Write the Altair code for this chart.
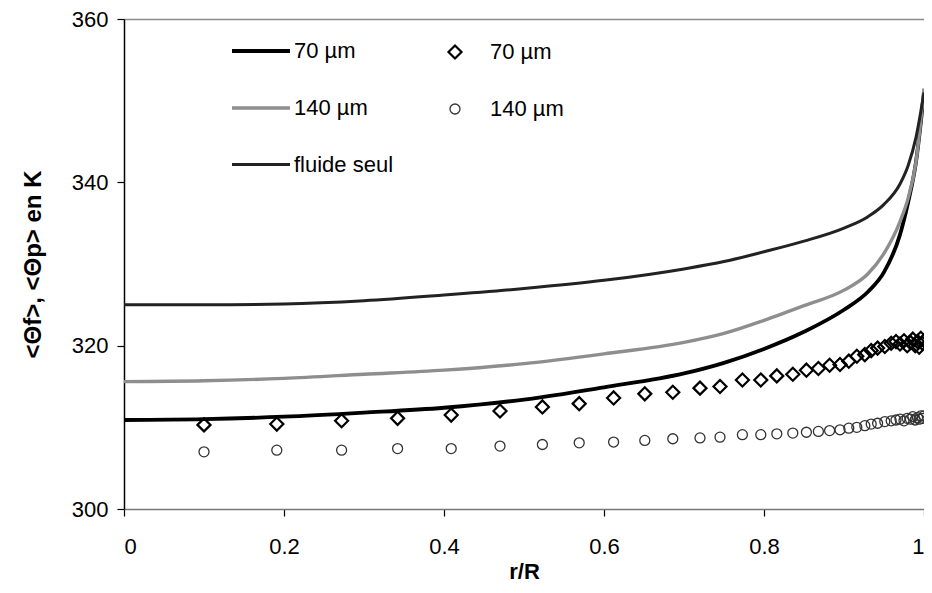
import altair as alt
import pandas as pd

# ---- data ----
x_curve = [0, 0.1, 0.2, 0.3, 0.4, 0.5, 0.6, 0.7, 0.75, 0.8, 0.85, 0.9, 0.93, 0.95, 0.97, 0.98, 0.99, 1.0]
t_70 = [310.9, 311.0, 311.3, 311.8, 312.4, 313.4, 314.9, 316.6, 317.9, 319.6, 321.7, 324.4, 326.6, 329.0, 333.6, 337.5, 342.5, 351.0]
t_140 = [315.6, 315.7, 316.0, 316.5, 317.0, 317.8, 319.0, 320.4, 321.5, 323.1, 324.9, 326.8, 328.8, 331.3, 335.2, 338.0, 342.5, 351.5]
t_fluide = [325.0, 325.0, 325.1, 325.5, 326.2, 327.0, 328.0, 329.4, 330.3, 331.5, 332.8, 334.4, 335.8, 337.3, 339.8, 342.0, 345.5, 351.0]
line_names = ["70 µm", "140 µm", "fluide seul"]

x_pts = [0.100, 0.191, 0.272, 0.342, 0.409, 0.470, 0.523, 0.569, 0.612, 0.651, 0.686, 0.720, 0.745,
         0.773, 0.796, 0.816, 0.836, 0.853, 0.868, 0.882, 0.895, 0.906, 0.916, 0.926, 0.934, 0.942,
         0.951, 0.959, 0.965, 0.970, 0.975, 0.979, 0.983, 0.986, 0.989, 0.992, 0.994, 0.996, 0.998, 1.000]
p_70 = [310.3, 310.4, 310.8, 311.1, 311.5, 312.0, 312.5, 312.9, 313.6, 314.1, 314.3, 314.8, 315.0,
        315.8, 315.8, 316.3, 316.5, 317.0, 317.2, 317.6, 317.7, 318.1, 318.7, 318.9, 319.4, 319.7,
        319.9, 320.3, 320.5, 320.2, 320.6, 320.0, 320.4, 320.8, 320.0, 320.5, 319.8, 320.9, 320.3, 320.6]
p_140 = [307.0, 307.2, 307.2, 307.4, 307.4, 307.7, 307.9, 308.1, 308.2, 308.4, 308.6, 308.7, 308.8,
         309.1, 309.1, 309.2, 309.3, 309.4, 309.5, 309.6, 309.7, 309.9, 310.0, 310.2, 310.4, 310.5,
         310.7, 310.8, 310.9, 311.0, 310.8, 311.1, 311.0, 311.3, 310.9, 311.2, 311.0, 311.4, 311.1, 311.4]
point_names = ["70 µm", "140 µm"]

x_ticks = [0, 0.2, 0.4, 0.6, 0.8, 1]
y_ticks = [300, 320, 340, 360]

lines_df = pd.DataFrame({
    "r": x_curve * 3,
    "T": t_70 + t_140 + t_fluide,
    "series": [line_names[0]] * len(x_curve) + [line_names[1]] * len(x_curve) + [line_names[2]] * len(x_curve),
})
pts_df = pd.DataFrame({
    "r": x_pts * 2,
    "T": p_70 + p_140,
    "pseries": [point_names[0]] * len(x_pts) + [point_names[1]] * len(x_pts),
})

FONT = "Liberation Sans"

x_scale = alt.Scale(domain=[0, 1], nice=False, zero=False)
y_scale = alt.Scale(domain=[300, 360], nice=False, zero=False)

x_bottom = alt.X("r:Q", scale=x_scale,
                 axis=alt.Axis(values=x_ticks, format="~g", title="r/R"))
x_top = alt.X("r:Q", scale=x_scale,
              axis=alt.Axis(orient="top", labels=False, ticks=False, title=None,
                            domainColor="#8c8c8c", domainWidth=1.5))
y_enc = alt.Y("T:Q", scale=y_scale,
              axis=alt.Axis(values=y_ticks, title="<Θf>, <Θp> en K", titleFontSize=24))

leg_lines = dict(title=None, orient="none", legendX=106, legendY=1, symbolType="stroke",
                 symbolSize=3364, labelFont=FONT, labelFontSize=22, labelColor="black",
                 labelOffset=2, rowPadding=15, padding=0)
leg_pts = dict(title=None, orient="none", legendX=320, legendY=22, labelFont=FONT,
               labelFontSize=22, labelColor="black", labelOffset=24, rowPadding=35, padding=0)

lines = alt.Chart(lines_df).mark_line(interpolate="monotone").encode(
    x=x_bottom, y=y_enc,
    color=alt.Color("series:N", scale=alt.Scale(domain=line_names, range=["#000000", "#8e8e8e", "#222222"]),
                    legend=alt.Legend(**leg_lines)),
    strokeWidth=alt.StrokeWidth("series:N", scale=alt.Scale(domain=line_names, range=[3.8, 3.0, 0.9]),
                                legend=alt.Legend(**leg_lines)),
)

points = alt.Chart(pts_df).mark_point(filled=False, opacity=1).encode(
    x=x_top, y=y_enc,
    shape=alt.Shape("pseries:N", scale=alt.Scale(domain=point_names, range=["diamond", "circle"]),
                    legend=alt.Legend(**leg_pts)),
    color=alt.Color("pseries:N", scale=alt.Scale(domain=point_names, range=["#000000", "#333333"]),
                    legend=alt.Legend(**leg_pts)),
    strokeWidth=alt.StrokeWidth("pseries:N", scale=alt.Scale(domain=point_names, range=[2.2, 1.3]),
                                legend=alt.Legend(**leg_pts)),
    size=alt.Size("pseries:N", scale=alt.Scale(domain=point_names, range=[170, 100]),
                  legend=alt.Legend(**leg_pts)),
)

chart = alt.layer(lines, points).resolve_scale(
    color="independent", strokeWidth="independent", shape="independent", size="independent"
).resolve_axis(
    x="independent"
).properties(
    width=800, height=490,
    padding={"left": 116, "top": 11, "right": 0, "bottom": 76},
    autosize=alt.AutoSizeParams(type="none"),
    background="white",
).configure_view(
    stroke=None
).configure_axis(
    labelFont=FONT, labelFontSize=22, labelColor="black",
    titleFont=FONT, titleFontSize=22, titleFontWeight="bold", titleColor="black",
    grid=False, tickColor="black", tickSize=7, tickWidth=1.2,
).configure_axisY(
    domainColor="black", domainWidth=1.5, labelPadding=9, titlePadding=26,
).configure_axisX(
    domainColor="#777777", domainWidth=1.5, labelPadding=20, titlePadding=4,
)

chart.save("out.html", embed_options={"renderer": "svg", "actions": False})
